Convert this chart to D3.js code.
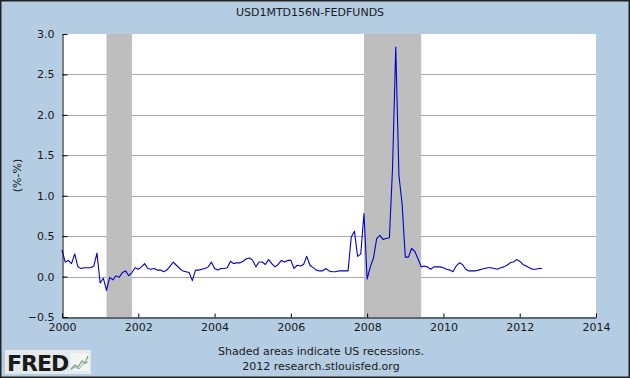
<!DOCTYPE html>
<html>
<head>
<meta charset="utf-8">
<script src="https://cdn.jsdelivr.net/npm/d3@7"></script>
<style>
html,body{margin:0;padding:0;background:#b4cde3;}
svg{display:block;}
text{font-family:"DejaVu Sans",Verdana,sans-serif;fill:#1a1a1a;}
</style>
</head>
<body>
<svg id="chart" width="630" height="378"></svg>
<script>
// ---- data (monthly, Jan 2000 .. Aug 2012), spread in percentage points ----
const title = "USD1MTD156N-FEDFUNDS";
const yLabel = "(%-%)";
const startYear = 2000;
const v2000 = [0.33, 0.18, 0.20, 0.16, 0.28, 0.12, 0.10, 0.11, 0.11, 0.11, 0.13, 0.29];
const v2001 = [-0.08, -0.02, -0.17, -0.01, -0.04, 0.01, -0.01, 0.05, 0.07, 0.01, 0.05, 0.11];
const v2002 = [0.09, 0.12, 0.16, 0.10, 0.09, 0.10, 0.08, 0.08, 0.06, 0.08, 0.13, 0.18];
const v2003 = [0.14, 0.10, 0.07, 0.06, 0.05, -0.05, 0.08, 0.08, 0.09, 0.10, 0.12, 0.18];
const v2004 = [0.10, 0.08, 0.10, 0.10, 0.11, 0.19, 0.16, 0.17, 0.17, 0.19, 0.22, 0.23];
const v2005 = [0.20, 0.12, 0.18, 0.18, 0.15, 0.21, 0.16, 0.12, 0.15, 0.20, 0.18, 0.20];
const v2006 = [0.20, 0.10, 0.14, 0.13, 0.15, 0.25, 0.14, 0.11, 0.08, 0.07, 0.07, 0.10];
const v2007 = [0.07, 0.06, 0.06, 0.07, 0.07, 0.07, 0.07, 0.49, 0.56, 0.25, 0.28, 0.78];
const v2008 = [-0.03, 0.12, 0.23, 0.47, 0.51, 0.46, 0.47, 0.48, 1.35, 2.84, 1.25, 0.90];
const v2009 = [0.24, 0.24, 0.35, 0.31, 0.22, 0.12, 0.13, 0.12, 0.09, 0.12, 0.12, 0.12];
const v2010 = [0.11, 0.09, 0.08, 0.06, 0.13, 0.17, 0.15, 0.09, 0.07, 0.07, 0.07, 0.08];
const v2011 = [0.09, 0.10, 0.11, 0.11, 0.10, 0.09, 0.11, 0.12, 0.14, 0.17, 0.18, 0.21];
const v2012 = [0.19, 0.15, 0.13, 0.11, 0.09, 0.09, 0.10, 0.10];
const recessions = [[2001 + 2/12, 2001 + 10/12], [2007 + 11/12, 2009 + 5/12]];
const xTicks = [2000, 2002, 2004, 2006, 2008, 2010, 2012, 2014];
const yTicks = [-0.5, 0.0, 0.5, 1.0, 1.5, 2.0, 2.5, 3.0];
const footer1 = "Shaded areas indicate US recessions.";
const footer2 = "2012 research.stlouisfed.org";

const values = [].concat(v2000, v2001, v2002, v2003, v2004, v2005, v2006, v2007, v2008, v2009, v2010, v2011, v2012);
const series = values.map((v, i) => ({t: startYear + i / 12, v: v}));

// ---- layout ----
const W = 630, H = 378;
const L = 62, R = 596, T = 34, B = 317;
const svg = d3.select("#chart");

const x = d3.scaleLinear().domain([2000, 2014]).range([L, R]);
const y = d3.scaleLinear().domain([-0.5, 3.0]).range([B, T]);

// background + outer frame
svg.append("rect").attr("x", 0).attr("y", 0).attr("width", W).attr("height", H).attr("fill", "#b4cde3");
// plot area
svg.append("rect").attr("x", L).attr("y", T).attr("width", R - L).attr("height", B - T).attr("fill", "#ffffff");

// gridlines
svg.append("g").selectAll("line").data(yTicks.filter(d => d > -0.5 && d < 3.0)).join("line")
  .attr("x1", L).attr("x2", R)
  .attr("y1", d => Math.round(y(d)) + 0.5).attr("y2", d => Math.round(y(d)) + 0.5)
  .attr("stroke", "#a9a9a9").attr("stroke-width", 1);

// recession shading
svg.append("g").selectAll("rect").data(recessions).join("rect")
  .attr("x", d => x(d[0])).attr("width", d => x(d[1]) - x(d[0]))
  .attr("y", T).attr("height", B - T)
  .attr("fill", "#bebebe");

// the line
const line = d3.line().x(d => x(d.t)).y(d => y(d.v));
svg.append("path").datum(series)
  .attr("d", line).attr("fill", "none")
  .attr("stroke", "#0000cc").attr("stroke-width", 1.1)
  .attr("stroke-linejoin", "round");

// axes
const yAxis = d3.axisLeft(y).tickValues(yTicks).tickFormat(d3.format(".1f")).tickSizeInner(-5).tickSizeOuter(0).tickPadding(8);
const gy = svg.append("g").attr("transform", `translate(${L + 0.5},0)`).call(yAxis);
gy.select(".domain").attr("stroke", "#000");
gy.selectAll(".tick line").attr("stroke", "#000");
gy.selectAll("text").attr("font-size", "11px").attr("font-family", "DejaVu Sans, Verdana, sans-serif").attr("fill", "#1a1a1a");

const xAxis = d3.axisBottom(x).tickValues(xTicks).tickFormat(d3.format("d")).tickSizeInner(-4).tickSizeOuter(0).tickPadding(6);
const gx = svg.append("g").attr("transform", `translate(0,${B + 0.5})`).call(xAxis);
gx.select(".domain").attr("stroke", "#000");
gx.selectAll(".tick line").attr("stroke", "#000");
gx.selectAll("text").attr("font-size", "11px").attr("font-family", "DejaVu Sans, Verdana, sans-serif").attr("fill", "#1a1a1a");

// title
svg.append("text").attr("x", 310).attr("y", 16).attr("text-anchor", "middle")
  .attr("font-size", "11px").text(title);

// y label
svg.append("text").attr("transform", `translate(21,${(T + B) / 2}) rotate(-90)`)
  .attr("text-anchor", "middle").attr("font-size", "11px").text(yLabel);

// footer
svg.append("text").attr("x", 321).attr("y", 355).attr("text-anchor", "middle").attr("font-size", "11px").text(footer1);
svg.append("text").attr("x", 321).attr("y", 370).attr("text-anchor", "middle").attr("font-size", "11px").text(footer2);

// FRED logo
const logo = svg.append("g");
logo.append("rect").attr("x", 5).attr("y", 350).attr("width", 86).attr("height", 24).attr("fill", "#e4e9ee");
logo.append("text").attr("x", 7).attr("y", 371).attr("font-family", "Liberation Sans, Arial, sans-serif")
  .attr("font-weight", "bold").attr("font-size", "22px").attr("fill", "#111").attr("letter-spacing", "-1").text("FRED");
logo.append("rect").attr("x", 70).attr("y", 353).attr("width", 19).attr("height", 18).attr("fill", "#f3f5f2");
logo.append("path").attr("d", "M71,369 L75,365 L78,367 L82,361 L85,363 L88,356").attr("fill", "none").attr("stroke", "#7aa86a").attr("stroke-width", 1.3);
logo.append("path").attr("d", "M71,370 L75,367 L79,369 L83,364 L88,362").attr("fill", "none").attr("stroke", "#8da3c4").attr("stroke-width", 1);

// outer border
svg.append("rect").attr("x", 0.75).attr("y", 0.75).attr("width", W - 1.5).attr("height", H - 1.5)
  .attr("fill", "none").attr("stroke", "#222").attr("stroke-width", 1.5);
</script>
</body>
</html>
